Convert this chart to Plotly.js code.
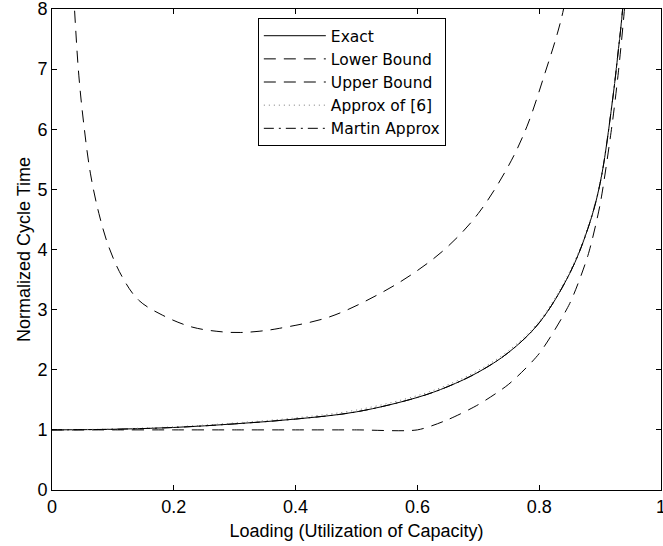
<!DOCTYPE html>
<html>
<head>
<meta charset="utf-8">
<script src="https://cdn.plot.ly/plotly-3.0.1.min.js"></script>
<style>html,body{margin:0;padding:0;background:#fff;}#chart{width:663px;height:546px;}</style>
</head>
<body>
<div id="chart"></div>
<script>
// Exact
var exactX = [0, 0.1, 0.2, 0.3, 0.4, 0.5, 0.6, 0.65, 0.7, 0.75, 0.8, 0.85, 0.88, 0.9, 0.92, 0.93, 0.937, 0.945];
var exactY = [1.0, 1.01, 1.04, 1.10, 1.18, 1.30, 1.54, 1.72, 1.96, 2.29, 2.78, 3.6, 4.35, 5.1, 6.45, 7.32, 8.0, 9.2];
// Lower bound
var lowerX = [0, 0.1, 0.2, 0.3, 0.4, 0.5, 0.6, 0.65, 0.7, 0.75, 0.8, 0.85, 0.88, 0.9, 0.92, 0.93, 0.94, 0.948];
var lowerY = [1, 1, 1, 1, 1, 1, 1.0, 1.17, 1.42, 1.76, 2.27, 3.1, 3.9, 4.75, 6.1, 6.95, 8.0, 9.2];
// Upper bound
var upperX = [0.03, 0.037, 0.044, 0.052, 0.063, 0.077, 0.093, 0.115, 0.142, 0.181, 0.23, 0.28, 0.31, 0.34, 0.374, 0.456, 0.539, 0.6, 0.65, 0.7, 0.75, 0.78, 0.81, 0.83, 0.84, 0.85];
var upperY = [9.3, 7.99, 6.9, 6.1, 5.27, 4.6, 4.05, 3.55, 3.16, 2.91, 2.71, 2.63, 2.62, 2.64, 2.69, 2.88, 3.27, 3.65, 4.05, 4.6, 5.4, 6.05, 6.95, 7.6, 8.0, 8.6];
// Approx of [6]
var approxX = [0, 0.1, 0.2, 0.3, 0.4, 0.5, 0.6, 0.65, 0.7, 0.75, 0.8, 0.85, 0.88, 0.9, 0.92, 0.93, 0.937, 0.945];
var approxY = [1.0, 1.015, 1.05, 1.115, 1.20, 1.33, 1.57, 1.75, 1.99, 2.32, 2.81, 3.63, 4.38, 5.12, 6.46, 7.33, 8.0, 9.2];
// Martin approx (coincides with exact)
var martinX = exactX.slice();
var martinY = exactY.slice();

var names = ['Exact', 'Lower Bound', 'Upper Bound', 'Approx of [6]', 'Martin Approx'];

var traces = [
  {x: exactX, y: exactY, name: names[0], mode: 'lines', line: {color: '#000', width: 1, shape: 'spline', smoothing: 1}},
  {x: lowerX, y: lowerY, name: names[1], mode: 'lines', line: {color: '#000', width: 1, dash: '12px,8px', shape: 'spline', smoothing: 0.7}},
  {x: upperX, y: upperY, name: names[2], mode: 'lines', line: {color: '#000', width: 1, dash: '12px,8px', shape: 'spline', smoothing: 1}},
  {x: approxX, y: approxY, name: names[3], mode: 'lines', line: {color: '#777', width: 1, dash: '1px,4px', shape: 'spline', smoothing: 1}},
  {x: martinX, y: martinY, name: names[4], mode: 'lines', line: {color: '#000', width: 1, dash: '10px,5px,2px,5px', shape: 'spline', smoothing: 1}}
];

var fnt = {family: 'Liberation Sans, Arial, Helvetica, sans-serif', size: 18, color: '#000'};
var legFnt = {family: 'DejaVu Sans, Liberation Sans, sans-serif', size: 15.5, color: '#000'};

var layout = {
  width: 663, height: 546,
  margin: {l: 52, r: 2, t: 9, b: 56, pad: 0},
  paper_bgcolor: '#fff', plot_bgcolor: '#fff',
  font: fnt,
  showlegend: true,
  legend: {x: 0.338, y: 0.981, xanchor: 'left', yanchor: 'top', bgcolor: '#fff', bordercolor: '#000', borderwidth: 1, font: legFnt, itemwidth: 62, tracegroupgap: 0},
  xaxis: {
    range: [0, 1], tickvals: [0, 0.2, 0.4, 0.6, 0.8, 1], ticktext: ['0', '0.2', '0.4', '0.6', '0.8', '1'],
    ticks: 'inside', ticklen: 5, tickcolor: '#000', showline: true, linecolor: '#000', linewidth: 1,
    mirror: 'ticks', showgrid: false, zeroline: false, tickfont: fnt, ticklabeloverflow: 'allow',
    title: {text: 'Loading (Utilization of Capacity)', font: fnt, standoff: 8}
  },
  yaxis: {
    range: [0, 8], tickvals: [0, 1, 2, 3, 4, 5, 6, 7, 8],
    ticks: 'inside', ticklen: 5, tickcolor: '#000', showline: true, linecolor: '#000', linewidth: 1,
    mirror: 'ticks', showgrid: false, zeroline: false, tickfont: fnt, ticklabeloverflow: 'allow',
    title: {text: 'Normalized Cycle Time', font: fnt, standoff: 2}
  }
};

Plotly.newPlot('chart', traces, layout, {staticPlot: true, displayModeBar: false});
</script>
</body>
</html>
